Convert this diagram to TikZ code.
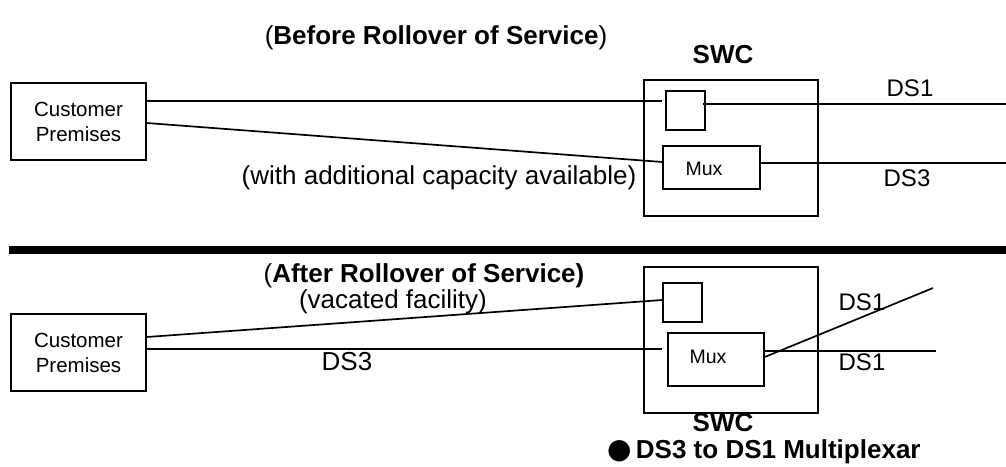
\documentclass[tikz,border=0pt]{standalone}
\usepackage{fontspec}
\setmainfont{Liberation Sans}
\newfontfamily\symfont{DejaVu Sans}
\begin{document}
\begin{tikzpicture}[x=1pt,y=-1pt,
  box/.style={draw,line width=1.4pt,inner sep=0pt},
  wire/.style={line width=1.7pt},
  lbl/.style={inner sep=0pt,font=\fontsize{26}{30}\selectfont},
  dslbl/.style={inner sep=0pt,font=\fontsize{24}{28}\selectfont},
  cplbl/.style={inner sep=0pt,align=center,font=\fontsize{20.5}{25}\selectfont},
  muxlbl/.style={inner sep=0pt,font=\fontsize{19.5}{23}\selectfont},
  bold/.style={inner sep=0pt,font=\fontsize{26}{30}\selectfont\bfseries}]
\useasboundingbox (0,0) rectangle (1006,466);

% ---------- top ----------
\node[lbl] (titleT) at (436,38) {(\textbf{Before Rollover of Service})};
\node[bold] (swcTl) at (723,55) {SWC};
\node[box,minimum width=135pt,minimum height=77pt] (cpT) at (78.5,121.5) {};
\node[cplbl] at (cpT.center) {Customer\\Premises};
\node[box,minimum width=174pt,minimum height=136pt] (swcT) at (731,148) {};
\node[box,minimum width=39pt,minimum height=39pt] (sbT) at (685.5,110.5) {};
\node[box,minimum width=97pt,minimum height=43pt] (muxT) at (711.5,167.5) {};
\node[muxlbl] at (704,169) {Mux};
\coordinate (ds1Tend) at (1006,104);
\coordinate (ds3Tend) at (1006,163);
\node[dslbl] (ds1T) at (910,88) {DS1};
\node[dslbl] (ds3T) at (907,178) {DS3};
\node[lbl] (capT) at (439,178) {(with additional capacity available)};

\draw[wire] ([yshift=20.5pt]cpT.east) -- ([yshift=9.5pt,xshift=-3pt]sbT.west);
\draw[wire] ([yshift=-1.5pt]cpT.east) -- ([yshift=5.5pt]muxT.west);
\draw[wire] ([yshift=6.5pt,xshift=-3pt]sbT.east) -- (ds1Tend);
\draw[wire] ([yshift=4.5pt]muxT.east) -- (ds3Tend);

% ---------- separator ----------
\coordinate (sepL) at (9,250);
\coordinate (sepR) at (1006,250);
\draw[line width=8pt] (sepL) -- (sepR);

% ---------- bottom ----------
\node[lbl] (titleB) at (424,276) {(\textbf{After Rollover of Service)}};
\node[lbl] (vac) at (393,302) {(vacated facility)};
\node[box,minimum width=135pt,minimum height=77pt] (cpB) at (78.5,352.5) {};
\node[cplbl] at (cpB.center) {Customer\\Premises};
\node[box,minimum width=174pt,minimum height=146pt] (swcB) at (731,340) {};
\node[box,minimum width=39pt,minimum height=39pt] (sbB) at (682.5,302.5) {};
\node[box,minimum width=96pt,minimum height=53pt] (muxB) at (716,359.5) {};
\node[muxlbl] at (708,357) {Mux};
\coordinate (dsUend) at (933,288);
\coordinate (dsLend) at (936,351);
\node[dslbl] (ds1U) at (862,302) {DS1};
\node[dslbl] (ds1L) at (862,362) {DS1};
\node[lbl] (ds3B) at (347,362) {DS3};
\node[bold] (swcBl) at (723,423) {SWC};
\node[bold,anchor=west] (mux) at (607,452) {{\symfont\fontsize{28}{28}\selectfont ●}\,DS3 to DS1 Multiplexar};

\draw[wire] ([yshift=15.5pt]cpB.east) -- ([yshift=2.5pt]sbB.west);
\draw[wire,shorten >=5pt] ([yshift=3.5pt]cpB.east) -- ([yshift=10.5pt]muxB.west);
\draw[wire] ([yshift=2.5pt]muxB.east) -- (dsUend);
\draw[wire] ([yshift=8.5pt]muxB.east) -- (dsLend);
\end{tikzpicture}
\end{document}
